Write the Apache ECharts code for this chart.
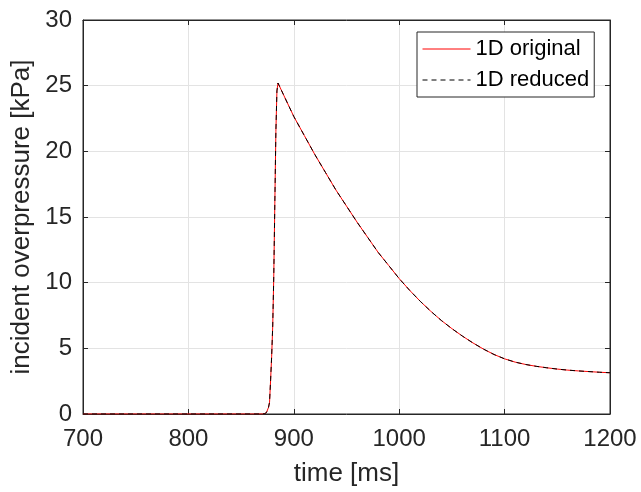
<!DOCTYPE html>
<html>
<head>
<meta charset="utf-8">
<title>Incident overpressure</title>
<script src="https://cdn.jsdelivr.net/npm/echarts@6/dist/echarts.min.js"></script>
<style>
  html, body { margin: 0; padding: 0; background: #fff; }
  #chart { width: 641px; height: 492px; }
</style>
</head>
<body>
<div id="chart"></div>
<script>
// Time samples [ms]
const timeMs = [
  700, 750, 800, 850, 860, 870, 872, 874, 875, 876, 877, 878, 879, 880,
  881, 882, 883, 884, 885, 890, 900, 910, 920, 930, 940, 950, 960, 970,
  980, 990, 1000, 1010, 1020, 1030, 1040, 1050, 1060, 1070, 1080, 1090,
  1100, 1110, 1120, 1130, 1140, 1150, 1160, 1170, 1180, 1190, 1200
];

// Incident overpressure [kPa], full 1D model
const originalKPa = [
  0, 0, 0, 0, 0, 0, 0.02, 0.1, 0.25, 0.5, 0.9, 2.6, 4.4, 6.7,
  10.5, 16.0, 21.5, 24.6, 25.2, 24.35, 22.65, 21.2, 19.75, 18.4, 17.05, 15.83, 14.61, 13.46,
  12.31, 11.31, 10.31, 9.41, 8.58, 7.82, 7.12, 6.5, 5.93, 5.41, 4.94, 4.53,
  4.2, 3.95, 3.77, 3.63, 3.52, 3.42, 3.34, 3.28, 3.23, 3.18, 3.14
];

// Incident overpressure [kPa], reduced 1D model
const reducedKPa = [
  0, 0, 0, 0, 0, 0, 0.02, 0.1, 0.25, 0.5, 0.9, 2.6, 4.4, 6.7,
  10.5, 16.0, 21.5, 24.6, 25.2, 24.35, 22.65, 21.2, 19.75, 18.4, 17.05, 15.83, 14.61, 13.46,
  12.31, 11.31, 10.31, 9.41, 8.58, 7.82, 7.12, 6.5, 5.93, 5.41, 4.94, 4.53,
  4.2, 3.95, 3.77, 3.63, 3.52, 3.42, 3.34, 3.28, 3.23, 3.18, 3.14
];

const seriesNames = ['1D original', '1D reduced'];
const xLabel = 'time [ms]';
const yLabel = 'incident overpressure [kPa]';

const FONT = '"Liberation Sans", Arial, Helvetica, sans-serif';
const AXIS_COLOR = '#262626';
const GRID_COLOR = '#e3e3e3';

const pairs = (xs, ys) => xs.map((x, i) => [x, ys[i]]);
const plain = (v) => String(v);

const chart = echarts.init(document.getElementById('chart'), null, { renderer: 'canvas' });

const xCommon = { type: 'value', min: 700, max: 1200, interval: 100 };
const yCommon = { type: 'value', min: 0, max: 30, interval: 5 };

chart.setOption({
  animation: false,
  backgroundColor: '#ffffff',
  textStyle: { fontFamily: FONT },
  grid: {
    left: 83, right: 31, top: 20, bottom: 74,
    show: true, borderColor: AXIS_COLOR, borderWidth: 1, backgroundColor: '#fff'
  },
  legend: {
    orient: 'vertical',
    left: 417, top: 32,
    padding: [6, 5, 6, 5],
    itemGap: 9,
    itemWidth: 48, itemHeight: 14,
    backgroundColor: '#fff',
    borderColor: AXIS_COLOR, borderWidth: 1,
    itemStyle: { opacity: 0 },
    lineStyle: { width: 1 },
    textStyle: { fontFamily: FONT, fontSize: 22, color: '#000' },
    data: seriesNames
  },
  xAxis: [
    Object.assign({}, xCommon, {
      position: 'bottom',
      name: xLabel, nameLocation: 'middle', nameGap: 47,
      nameTextStyle: { fontFamily: FONT, fontSize: 26, color: AXIS_COLOR },
      axisLine: { show: true, onZero: false, lineStyle: { color: AXIS_COLOR, width: 1 } },
      axisTick: { show: true, inside: true, length: 5, lineStyle: { color: AXIS_COLOR } },
      axisLabel: { fontFamily: FONT, fontSize: 24, color: AXIS_COLOR, margin: 13, formatter: plain },
      splitLine: { show: true, lineStyle: { color: GRID_COLOR, width: 1 } }
    }),
    Object.assign({}, xCommon, {
      position: 'top',
      axisLine: { show: true, onZero: false, lineStyle: { color: AXIS_COLOR, width: 1 } },
      axisTick: { show: true, inside: true, length: 5, lineStyle: { color: AXIS_COLOR } },
      axisLabel: { show: false },
      splitLine: { show: false }
    })
  ],
  yAxis: [
    Object.assign({}, yCommon, {
      position: 'left',
      name: yLabel, nameLocation: 'middle', nameGap: 45, nameRotate: 90,
      nameTextStyle: { fontFamily: FONT, fontSize: 26, color: AXIS_COLOR },
      axisLine: { show: true, onZero: false, lineStyle: { color: AXIS_COLOR, width: 1 } },
      axisTick: { show: true, inside: true, length: 5, lineStyle: { color: AXIS_COLOR } },
      axisLabel: { fontFamily: FONT, fontSize: 24, color: AXIS_COLOR, margin: 11, formatter: plain },
      splitLine: { show: true, lineStyle: { color: GRID_COLOR, width: 1 } }
    }),
    Object.assign({}, yCommon, {
      position: 'right',
      axisLine: { show: true, onZero: false, lineStyle: { color: AXIS_COLOR, width: 1 } },
      axisTick: { show: true, inside: true, length: 5, lineStyle: { color: AXIS_COLOR } },
      axisLabel: { show: false },
      splitLine: { show: false }
    })
  ],
  series: [
    {
      name: seriesNames[0],
      type: 'line',
      xAxisIndex: 0, yAxisIndex: 0,
      data: pairs(timeMs, originalKPa),
      symbol: 'none',
      itemStyle: { color: '#ff0000' },
      lineStyle: { color: '#ff0000', width: 1, type: 'solid' },
      z: 3
    },
    {
      name: seriesNames[1],
      type: 'line',
      xAxisIndex: 0, yAxisIndex: 0,
      data: pairs(timeMs, reducedKPa),
      symbol: 'none',
      itemStyle: { color: '#000000' },
      lineStyle: { color: '#000000', width: 1, type: [5, 4] },
      z: 4
    }
  ]
});
</script>
</body>
</html>
